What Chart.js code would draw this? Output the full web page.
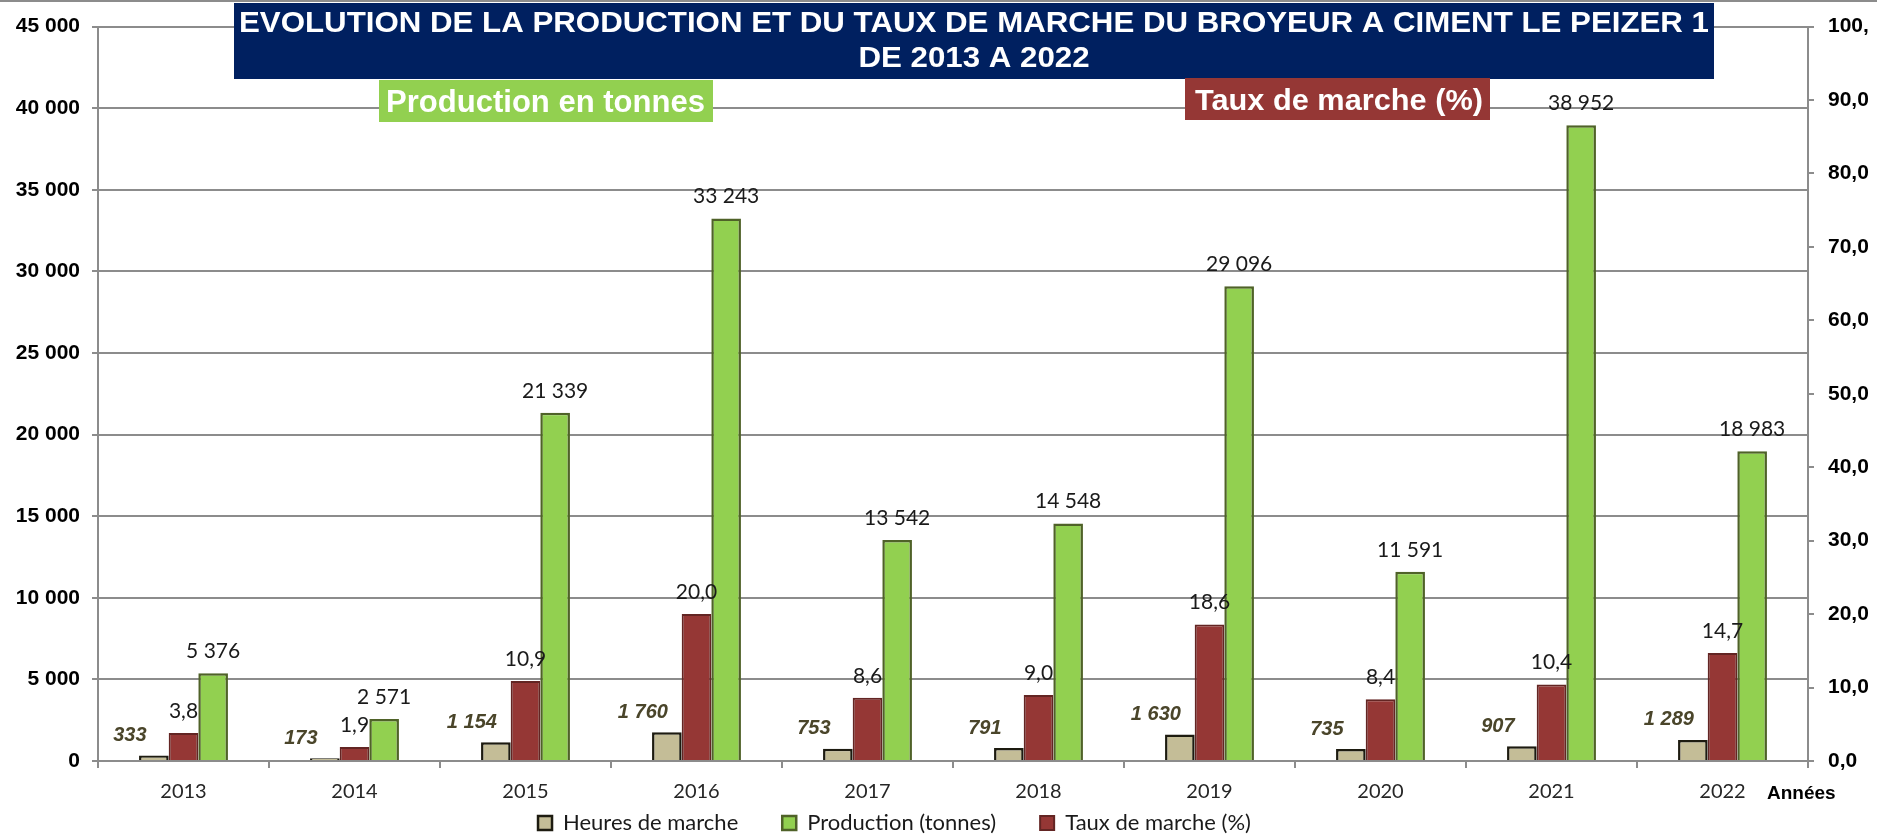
<!DOCTYPE html>
<html>
<head>
<meta charset="utf-8">
<script src="https://cdn.jsdelivr.net/npm/chart.js@4.4.0/dist/chart.umd.min.js"></script>
<style>
  html, body { margin: 0; padding: 0; background: #fff; }
  #wrap { width: 1877px; height: 837px; position: relative; }
</style>
</head>
<body>
<div id="wrap"><canvas id="chart"></canvas></div>
<script>
// --- Data ---
const years = ['2013', '2014', '2015', '2016', '2017', '2018', '2019', '2020', '2021', '2022'];
const heures = [333, 173, 1154, 1760, 753, 791, 1630, 735, 907, 1289];
const production = [5376, 2571, 21339, 33243, 13542, 14548, 29096, 11591, 38952, 18983];
const taux = [3.8, 1.9, 10.9, 20.0, 8.6, 9.0, 18.6, 8.4, 10.4, 14.7];

const legendOrder = ['Heures de marche', 'Production (tonnes)', 'Taux de marche (%)'];
const titleLines = [
  'EVOLUTION DE LA PRODUCTION ET DU TAUX DE MARCHE DU BROYEUR A CIMENT LE PEIZER 1',
  'DE 2013 A 2022'
];
const tagProduction = 'Production en tonnes';
const tagTaux = 'Taux de marche (%)';
const xAxisTitle = 'Années';

// --- Helpers ---
const fmtThousands = v => String(Math.round(v)).replace(/\B(?=(\d{3})+(?!\d))/g, ' ');
const fmtPct = v => Number(v).toFixed(1).replace('.', ',');

const GRID = '#8c8c8c';
const ARIAL = '"Liberation Sans", Arial, sans-serif';
const CALIBRI = 'Lato, "Open Sans", sans-serif';

// text fitted to a given width (the reference text is slightly stretched)
function fitText(ctx, text, x, y, width, font, align) {
  ctx.save();
  ctx.font = font;
  const w = ctx.measureText(text).width;
  const s = width / w;
  let left = x;
  if (align === 'center') left = x - width / 2;
  ctx.translate(left, y);
  ctx.scale(s, 1);
  ctx.textAlign = 'left';
  ctx.fillText(text, 0, 0);
  ctx.restore();
}

// --- Labels and decorations ---
const overlayPlugin = {
  id: 'overlay',
  afterLayout(chart) {
    // legend: left of centre and closer to the axis than Chart.js puts it
    const lg = chart.legend;
    if (lg) {
      lg.left -= 44;
      lg.right -= 44;
      lg.top -= 41; // legend clips to its box, so only the top moves
    }
    // right axis labels are cut by the picture edge ("100,")
    if (chart.scales.y1) chart.scales.y1.right = 1868;
  },
  afterDatasetsDraw(chart) {
    const ctx = chart.ctx;
    ctx.save();
    ctx.textBaseline = 'middle';
    ctx.textAlign = 'center';
    chart.data.datasets.forEach((ds, i) => {
      const meta = chart.getDatasetMeta(i);
      meta.data.forEach((bar, j) => {
        const v = ds.data[j];
        if (ds.label === 'Heures de marche') {
          ctx.font = 'italic bold 20px ' + ARIAL;
          ctx.fillStyle = '#4a452a';
          ctx.fillText(fmtThousands(v), bar.x - 24, bar.y - 20);
        } else if (ds.label === 'Taux de marche (%)') {
          ctx.font = '21px ' + CALIBRI;
          ctx.fillStyle = '#1a1a1a';
          ctx.fillText(fmtPct(v), bar.x, bar.y - 22);
        } else {
          ctx.font = '21px ' + CALIBRI;
          ctx.fillStyle = '#1a1a1a';
          ctx.fillText(fmtThousands(v), bar.x, bar.y - 22);
        }
      });
    });
    ctx.restore();
  },
  afterDraw(chart) {
    const ctx = chart.ctx;
    ctx.save();
    // outer frame line at the top
    ctx.strokeStyle = GRID;
    ctx.lineWidth = 2;
    ctx.beginPath();
    ctx.moveTo(0, 1);
    ctx.lineTo(chart.width, 1);
    ctx.stroke();

    // title box
    ctx.fillStyle = '#002060';
    ctx.fillRect(234, 3, 1480, 76);
    ctx.fillStyle = '#ffffff';
    ctx.textBaseline = 'alphabetic';
    const titleFont = 'bold 30px ' + ARIAL;
    ctx.font = titleFont;
    const s = 1470 / ctx.measureText(titleLines[0]).width;
    fitText(ctx, titleLines[0], 239, 32, 1470, titleFont, 'left');
    ctx.font = titleFont;
    const w2 = ctx.measureText(titleLines[1]).width * s;
    fitText(ctx, titleLines[1], 974, 67, w2, titleFont, 'center');

    // series tags
    ctx.fillStyle = '#92d050';
    ctx.fillRect(379, 80, 334, 42);
    ctx.fillStyle = '#ffffff';
    fitText(ctx, tagProduction, 386, 112, 319, 'bold 31px ' + ARIAL, 'left');

    ctx.fillStyle = '#953735';
    ctx.fillRect(1185, 78, 305, 42);
    ctx.fillStyle = '#ffffff';
    fitText(ctx, tagTaux, 1195, 110, 288, 'bold 30px ' + ARIAL, 'left');

    // x axis title
    ctx.fillStyle = '#000';
    ctx.font = 'bold 19px ' + ARIAL;
    ctx.textAlign = 'left';
    ctx.textBaseline = 'middle';
    ctx.fillText(xAxisTitle, 1767, 794);
    ctx.restore();
  }
};

const ctx = document.getElementById('chart').getContext('2d');

new Chart(ctx, {
  type: 'bar',
  data: {
    labels: years,
    datasets: [{
      label: 'Heures de marche',
      data: heures,
      yAxisID: 'y',
      backgroundColor: '#c4bd97',
      borderColor: '#1d1b10',
      borderWidth: 2.5
    }, {
      label: 'Taux de marche (%)',
      data: taux,
      yAxisID: 'y1',
      backgroundColor: '#953735',
      borderColor: '#632523',
      borderWidth: 2
    }, {
      label: 'Production (tonnes)',
      data: production,
      yAxisID: 'y',
      backgroundColor: '#92d050',
      borderColor: '#4f6228',
      borderWidth: 2.5
    }]
  },
  options: {
    responsive: true,
    maintainAspectRatio: false,
    animation: false,
    layout: { padding: { top: 22, left: 0, right: 0, bottom: 0 } },
    datasets: {
      bar: { barPercentage: 1, categoryPercentage: 0.52 }
    },
    scales: {
      x: {
        grid: {
          offset: true,
          drawOnChartArea: false,
          drawTicks: true,
          tickLength: 7,
          color: GRID,
          lineWidth: 2
        },
        border: { color: GRID, width: 2 },
        ticks: {
          color: '#262626',
          font: { family: CALIBRI, size: 20 },
          padding: 12
        },
        afterFit: scale => { scale.height = 48; }
      },
      y: {
        position: 'left',
        min: 0,
        max: 45000,
        ticks: {
          stepSize: 5000,
          color: '#000',
          font: { family: ARIAL, size: 21, weight: 'bold' },
          padding: 12,
          callback: v => fmtThousands(v)
        },
        grid: {
          color: GRID,
          lineWidth: 2,
          tickLength: 6
        },
        border: { color: GRID, width: 2 },
        afterFit: scale => { scale.width = 98; }
      },
      y1: {
        position: 'right',
        min: 0,
        max: 100,
        ticks: {
          stepSize: 10,
          color: '#000',
          font: { family: ARIAL, size: 21, weight: 'bold' },
          padding: 14,
          callback: v => fmtPct(v)
        },
        grid: {
          drawOnChartArea: false,
          color: GRID,
          lineWidth: 2,
          tickLength: 6
        },
        border: { color: GRID, width: 2 },
        afterFit: scale => { scale.width = 69; }
      }
    },
    plugins: {
      title: { display: false },
      tooltip: { enabled: false },
      legend: {
        position: 'bottom',
        maxHeight: 28,
        labels: {
          color: '#1a1a1a',
          font: { family: CALIBRI, size: 22 },
          boxWidth: 14,
          boxHeight: 14,
          padding: 44,
          sort: (a, b) => legendOrder.indexOf(a.text) - legendOrder.indexOf(b.text)
        }
      }
    }
  },
  plugins: [overlayPlugin]
});
</script>
</body>
</html>
